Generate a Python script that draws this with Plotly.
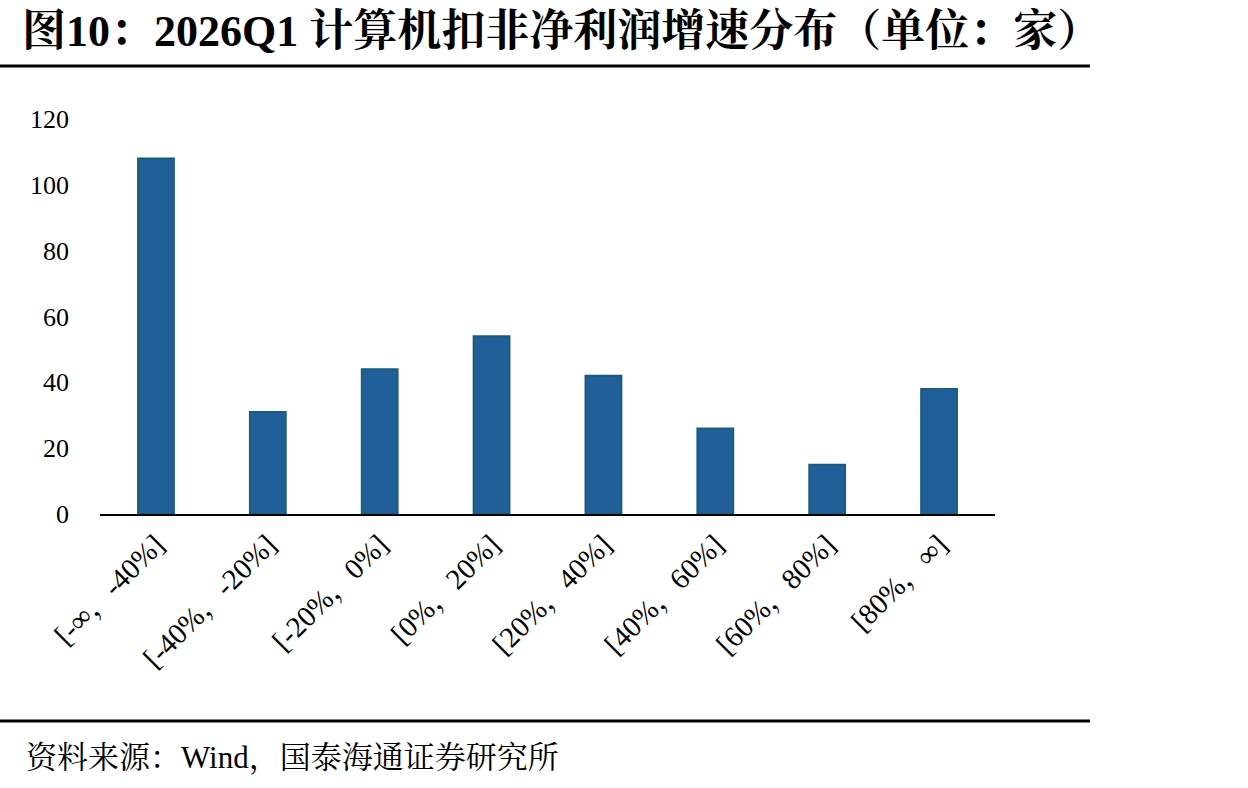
import plotly.graph_objects as go

categories = ["[-∞，-40%]", "[-40%，-20%]", "[-20%，0%]", "[0%，20%]",
              "[20%，40%]", "[40%，60%]", "[60%，80%]", "[80%，∞]"]
counts = [108, 31, 44, 54, 42, 26, 15, 38]
y_ticks = [0, 20, 40, 60, 80, 100, 120]

title_text = "图10：2026Q1 计算机扣非净利润增速分布（单位：家）"
source_text = "资料来源：Wind，国泰海通证券研究所"

W, H = 1248, 788
L, R, T, B = 100, 253, 119, 274
pw = W - L - R
ph = H - T - B

def px_x(x):
    return (x - L) / pw

def px_y(y):
    return (H - B - y) / ph

serif = "Liberation Serif, Times New Roman, Noto Serif CJK SC, Noto Sans CJK SC, serif"

fig = go.Figure(go.Bar(
    x=categories, y=counts,
    marker=dict(color="#215F9A", line=dict(color="#1B5C7C", width=2)),
    width=0.32,
))

fig.update_layout(
    width=W, height=H,
    margin=dict(l=L, r=R, t=T, b=B, autoexpand=False),
    paper_bgcolor="white", plot_bgcolor="white",
    showlegend=False,
    font=dict(family=serif, size=25, color="black"),
    xaxis=dict(
        showline=True, linecolor="black", linewidth=2,
        showgrid=False, ticks="", tickangle=-45,
        tickfont=dict(family=serif, size=29, color="black"),
        range=[-0.5, 7.5],
    ),
    yaxis=dict(
        range=[0, 120], tickvals=y_ticks, showgrid=False, zeroline=False,
        showline=False, ticks="", ticklabelstandoff=30,
        tickfont=dict(family=serif, size=26, color="black"),
    ),
    shapes=[
        dict(type="line", xref="paper", yref="paper",
             x0=px_x(0), x1=px_x(1090), y0=px_y(66), y1=px_y(66),
             line=dict(color="black", width=3)),
        dict(type="line", xref="paper", yref="paper",
             x0=px_x(0), x1=px_x(1090), y0=px_y(721), y1=px_y(721),
             line=dict(color="black", width=3)),
    ],
    annotations=[
        dict(text="<b>" + title_text + "</b>", xref="paper", yref="paper",
             x=px_x(20), y=px_y(32), xanchor="left", yanchor="middle",
             showarrow=False,
             font=dict(family="Liberation Serif, Noto Serif CJK SC, Noto Sans CJK SC, serif", size=44, color="black")),
        dict(text=source_text, xref="paper", yref="paper",
             x=px_x(24), y=px_y(757), xanchor="left", yanchor="middle",
             showarrow=False,
             font=dict(family="Liberation Serif, Noto Serif CJK SC, Noto Sans CJK SC, serif", size=31, color="black")),
    ],
)

fig.write_html("out.html")
